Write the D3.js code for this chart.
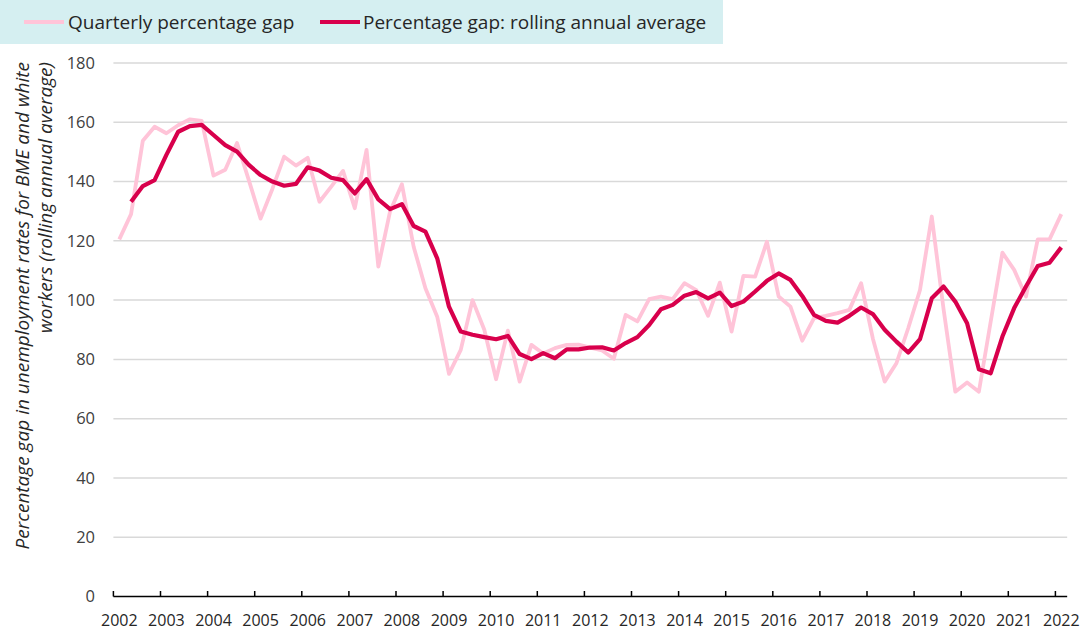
<!DOCTYPE html>
<html>
<head>
<meta charset="utf-8">
<script src="https://cdn.jsdelivr.net/npm/d3@7"></script>
<style>
  body { margin: 0; background: #fff; }
  svg { display: block; font-family: "Open Sans", "Noto Sans", sans-serif; }
</style>
</head>
<body>
<div id="chart"></div>
<script>
// Year labels on the category axis (one label per year, at Q1)
const years = ['2002','2003','2004','2005','2006','2007','2008','2009','2010','2011',
  '2012','2013','2014','2015','2016','2017','2018','2019','2020','2021','2022'];

// Quarterly percentage gap, 2002 Q1 .. 2022 Q1
const quarterlyGap = [
  120.5, 129, 153.8, 158.5, 156.3, 159, 161, 160.5,
  142, 144, 153, 140.5, 127.5, 137.5, 148.4, 145.4,
  148, 133.2, 138.3, 143.6, 131, 150.7, 111.3, 130,
  139.1, 118, 104, 94.4, 75.1, 83.2, 100, 90,
  73.3, 89.7, 72.5, 84.9, 82, 83.8, 84.9, 85,
  84, 83, 80.2, 95, 92.8, 100.3, 101.2, 100.3,
  105.7, 103.4, 94.7, 105.9, 89.4, 108.2, 107.9, 119.7,
  101.2, 97.8, 86.3, 93.9, 94.7, 95.6, 96.7, 105.7,
  87, 72.5, 78.7, 90.5, 103.4, 128.2, 97, 69.1,
  72.2, 69.1, 92.6, 116, 110.2, 101.2, 120.5, 120.5,
  129
];

// Rolling annual average (no value for the first quarter)
const rollingAvg = [
  null, 133.2, 138.5, 140.5, 149, 156.8, 158.7, 159.1,
  155.7, 152.3, 150.1, 145.6, 142.2, 140, 138.6, 139.2,
  144.8, 143.7, 141.3, 140.5, 136, 140.8, 134, 130.7,
  132.4, 125, 123.1, 114.1, 97.8, 89.4, 88.3, 87.5,
  86.8, 87.9, 81.8, 80.1, 82.1, 80.4, 83.4, 83.4,
  84, 84.1, 83, 85.5, 87.5, 91.6, 96.9, 98.4,
  101.5, 102.7, 100.6, 102.5, 98, 99.5, 102.9, 106.5,
  109, 106.8, 101.4, 95, 93, 92.4, 94.7, 97.5,
  95.3, 90, 86, 82.3, 86.8, 100.6, 104.6, 99.5,
  92.2, 76.7, 75.3, 87.7, 97.3, 104.6, 111.5, 112.6,
  117.8
];

const yTicks = [0, 20, 40, 60, 80, 100, 120, 140, 160, 180];

const seriesNames = ['Quarterly percentage gap', 'Percentage gap: rolling annual average'];
const colors = { quarterly: '#ffc4d8', rolling: '#d8004c' };

// quarter categories built from the year labels
const quarters = [];
years.forEach(y => ['Q1','Q2','Q3','Q4'].forEach(q => quarters.push(y + ' ' + q)));
quarters.length = quarterlyGap.length;

const W = 1081, H = 631;
const margin = { top: 63, right: 13, bottom: 35, left: 113.4 };

const svg = d3.select('#chart').append('svg')
  .attr('width', W).attr('height', H);

const x = d3.scaleBand()
  .domain(quarters)
  .range([margin.left, margin.left + 11.775 * quarters.length])
  .padding(0);

const y = d3.scaleLinear()
  .domain([0, 180])
  .range([H - margin.bottom + 0.5, margin.top]);

const cx = d => x(d) + x.bandwidth() / 2;
const [x0, x1] = x.range();

// gridlines
svg.append('g')
  .selectAll('line')
  .data(yTicks.filter(t => t > 0))
  .join('line')
  .attr('x1', x0).attr('x2', x1)
  .attr('y1', d => y(d)).attr('y2', d => y(d))
  .attr('stroke', '#d9d9d9')
  .attr('stroke-width', 1.5);

// y tick labels
svg.append('g')
  .selectAll('text')
  .data(yTicks)
  .join('text')
  .attr('x', 95)
  .attr('y', d => y(d))
  .attr('dy', '0.35em')
  .attr('text-anchor', 'end')
  .style('font-size', '16.5px')
  .style('fill', '#404040')
  .text(d => d);

// y axis title (two lines, top aligned)
const yTitle = svg.append('text')
  .attr('transform', 'rotate(-90)')
  .attr('text-anchor', 'end')
  .style('font-size', '19px')
  .style('font-style', 'italic')
  .style('fill', '#262626');
yTitle.append('tspan').attr('x', -62).attr('y', 29)
  .text('Percentage gap in unemployment rates for BME and white');
yTitle.append('tspan').attr('x', -62).attr('y', 52)
  .text('workers (rolling annual average)');

// x axis line + inside ticks at year boundaries
const xAxisY = y(0);
svg.append('line')
  .attr('x1', x0).attr('x2', x1)
  .attr('y1', xAxisY).attr('y2', xAxisY)
  .attr('stroke', '#000').attr('stroke-width', 1.5);

const yearStarts = quarters.filter(q => q.endsWith('Q1'));
svg.append('g')
  .selectAll('line')
  .data(yearStarts)
  .join('line')
  .attr('x1', d => x(d)).attr('x2', d => x(d))
  .attr('y1', xAxisY).attr('y2', xAxisY - 5.5)
  .attr('stroke', '#000').attr('stroke-width', 1.5);

svg.append('g')
  .selectAll('text')
  .data(yearStarts)
  .join('text')
  .attr('x', d => cx(d))
  .attr('y', 626)
  .attr('text-anchor', 'middle')
  .style('font-size', '16px')
  .style('fill', '#262626')
  .text(d => d.slice(0, 4));

// lines
const line = d3.line()
  .defined(d => d.v != null)
  .x(d => cx(d.q))
  .y(d => y(d.v));

svg.append('path')
  .datum(quarters.map((q, i) => ({ q, v: quarterlyGap[i] })))
  .attr('d', line)
  .attr('fill', 'none')
  .attr('stroke', colors.quarterly)
  .attr('stroke-width', 3.8)
  .attr('stroke-linejoin', 'round');

svg.append('path')
  .datum(quarters.map((q, i) => ({ q, v: rollingAvg[i] })))
  .attr('d', line)
  .attr('fill', 'none')
  .attr('stroke', colors.rolling)
  .attr('stroke-width', 4.2)
  .attr('stroke-linejoin', 'round');

// legend
const legend = svg.append('g');
legend.append('rect')
  .attr('x', 0).attr('y', 0)
  .attr('width', 723).attr('height', 44)
  .attr('fill', '#d5eff1');

const items = [
  { name: seriesNames[0], color: colors.quarterly, x: 24, w: 40, tx: 68 },
  { name: seriesNames[1], color: colors.rolling, x: 320, w: 40, tx: 363 }
];
items.forEach(it => {
  legend.append('line')
    .attr('x1', it.x).attr('x2', it.x + it.w)
    .attr('y1', 22).attr('y2', 22)
    .attr('stroke', it.color).attr('stroke-width', 4.2);
  legend.append('text')
    .attr('x', it.tx).attr('y', 22)
    .attr('dy', '0.35em')
    .style('font-size', '19px')
    .style('fill', '#262626')
    .text(it.name);
});
</script>
</body>
</html>
